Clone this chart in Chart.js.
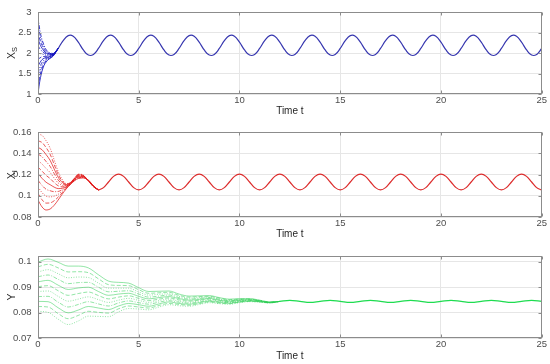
<!DOCTYPE html>
<html lang="en">
<head>
<meta charset="UTF-8">
<title>X_S, X_I and Y over time</title>
<script src="https://cdn.jsdelivr.net/npm/chart.js"></script>
<style>
  body { margin: 0; background: #fff; }
  #wrap { position: relative; width: 550px; height: 364px; }
  canvas { position: absolute; left: 0; }
</style>
</head>
<body>
<div id="wrap">
  <canvas id="xsChart" width="550" height="120" style="top:0"></canvas>
  <canvas id="xiChart" width="550" height="124" style="top:120px"></canvas>
  <canvas id="yChart" width="550" height="120" style="top:244px"></canvas>
</div>
<script>
// time samples
const tGrid = [0,0.25,0.5,0.75,1,1.25,1.5,1.75,2,2.25,2.5,2.75,3,3.25,3.5,3.75,4,4.25,4.5,4.75,5,5.25,5.5,5.75,6,6.25,6.5,6.75,7,7.25,7.5,7.75,8,8.25,8.5,8.75,9,9.25,9.5,9.75,10,10.25,10.5,10.75,11,11.25,11.5,11.75,12,12.25,12.5,12.75,13,13.25,13.5,13.75,14,14.25,14.5,14.75,15,15.25,15.5,15.75,16,16.25,16.5,16.75,17,17.25,17.5,17.75,18,18.25,18.5,18.75,19,19.25,19.5,19.75,20,20.25,20.5,20.75,21,21.25,21.5,21.75,22,22.25,22.5,22.75,23,23.25,23.5,23.75,24,24.25,24.5,24.75,25];
const tHalf = [0,0.5,1,1.5,2,2.5,3,3.5,4,4.5,5,5.5,6,6.5,7,7.5,8,8.5,9,9.5,10,10.5,11,11.5,12,12.5,13,13.5,14,14.5,15,15.5,16,16.5,17,17.5,18,18.5,19,19.5,20,20.5,21,21.5,22,22.5,23,23.5,24,24.5,25];
const tTopRun = [0, 0.05, 0.1, 0.15, 0.2, 0.3, 0.4, 0.5, 0.75, 1];
const tMidRun = [0, 0.2, 0.4, 0.6, 0.8, 1, 1.2, 1.4, 1.6, 1.8, 2, 2.25, 2.5, 2.75, 3];

const xTicks = [0, 5, 10, 15, 20, 25];
const xsTicks = [1, 1.5, 2, 2.5, 3];
const xiTicks = [0.08, 0.1, 0.12, 0.14, 0.16];
const yTicks = [0.07, 0.08, 0.09, 0.1];

// X_S: transients (t = 0..1) and the common orbit from t = 1
const xsRuns = [
  [1.00, 1.19, 1.34, 1.46, 1.56, 1.70, 1.78, 1.835, 1.926, 2.108],
  [1.17, 1.33, 1.45, 1.55, 1.63, 1.74, 1.81, 1.853, 1.932, 2.109],
  [1.34, 1.46, 1.56, 1.64, 1.70, 1.785, 1.838, 1.87, 1.938, 2.11],
  [1.51, 1.60, 1.66, 1.725, 1.77, 1.83, 1.866, 1.888, 1.944, 2.111],
  [1.68, 1.73, 1.77, 1.81, 1.84, 1.874, 1.894, 1.906, 1.949, 2.112],
  [1.85, 1.87, 1.88, 1.90, 1.91, 1.918, 1.922, 1.924, 1.955, 2.113],
  [2.02, 2.006, 1.99, 1.985, 1.978, 1.962, 1.95, 1.942, 1.961, 2.114],
  [2.19, 2.14, 2.10, 2.07, 2.05, 2.006, 1.978, 1.96, 1.967, 2.115],
  [2.36, 2.28, 2.21, 2.16, 2.12, 2.05, 2.006, 1.978, 1.973, 2.116],
  [2.53, 2.41, 2.32, 2.245, 2.19, 2.095, 2.034, 1.995, 1.978, 2.117],
  [2.70, 2.55, 2.43, 2.33, 2.26, 2.14, 2.06, 2.013, 1.984, 2.118],
  [2.88, 2.69, 2.54, 2.42, 2.33, 2.19, 2.09, 2.032, 1.99, 2.119]
];
const xsOrbit = [
  2.113, 2.304, 2.428, 2.413, 2.267, 2.077, 1.952, 1.967,
  2.113, 2.304, 2.428, 2.413, 2.267, 2.077, 1.952, 1.967,
  2.113, 2.304, 2.428, 2.413, 2.267, 2.077, 1.952, 1.967,
  2.113, 2.304, 2.428, 2.413, 2.267, 2.077, 1.952, 1.967,
  2.113, 2.304, 2.428, 2.413, 2.267, 2.077, 1.952, 1.967,
  2.113, 2.304, 2.428, 2.413, 2.267, 2.077, 1.952, 1.967,
  2.113, 2.304, 2.428, 2.413, 2.267, 2.077, 1.952, 1.967,
  2.113, 2.304, 2.428, 2.413, 2.267, 2.077, 1.952, 1.967,
  2.113, 2.304, 2.428, 2.413, 2.267, 2.077, 1.952, 1.967,
  2.113, 2.304, 2.428, 2.413, 2.267, 2.077, 1.952, 1.967,
  2.113, 2.304, 2.428, 2.413, 2.267, 2.077, 1.952, 1.967,
  2.113, 2.304, 2.428, 2.413, 2.267, 2.077, 1.952, 1.967,
  2.113
];

// X_I: transients (t = 0..3) and the orbit from t = 3
const xiRuns = [
  [0.096, 0.0895, 0.0866, 0.0875, 0.091, 0.096, 0.1015, 0.1065, 0.1105, 0.114, 0.1163, 0.1168, 0.1148, 0.1095, 0.1055],
  [0.1022, 0.0963, 0.0931, 0.0933, 0.0953, 0.0987, 0.1029, 0.107, 0.1107, 0.1143, 0.1167, 0.1171, 0.1147, 0.1094, 0.1055],
  [0.1084, 0.103, 0.0997, 0.099, 0.0996, 0.1014, 0.1043, 0.1075, 0.1109, 0.1145, 0.1171, 0.1173, 0.1146, 0.1093, 0.1055],
  [0.1146, 0.1098, 0.1062, 0.1048, 0.1039, 0.1041, 0.1057, 0.108, 0.1111, 0.1148, 0.1176, 0.1176, 0.1146, 0.1092, 0.1055],
  [0.1208, 0.1165, 0.1128, 0.1105, 0.1082, 0.1068, 0.1071, 0.1085, 0.1113, 0.115, 0.118, 0.1179, 0.1145, 0.1091, 0.1055],
  [0.127, 0.1233, 0.1193, 0.1163, 0.1125, 0.1095, 0.1085, 0.109, 0.1115, 0.1153, 0.1184, 0.1182, 0.1144, 0.109, 0.1055],
  [0.1332, 0.13, 0.1258, 0.122, 0.1168, 0.1122, 0.1099, 0.1095, 0.1117, 0.1155, 0.1188, 0.1184, 0.1143, 0.1089, 0.1055],
  [0.1394, 0.1368, 0.1324, 0.1278, 0.1211, 0.1149, 0.1113, 0.11, 0.1119, 0.1158, 0.1192, 0.1187, 0.1142, 0.1088, 0.1055],
  [0.1456, 0.1435, 0.1389, 0.1335, 0.1254, 0.1176, 0.1127, 0.1105, 0.1121, 0.116, 0.1197, 0.119, 0.1142, 0.1087, 0.1055],
  [0.1518, 0.1503, 0.1455, 0.1393, 0.1297, 0.1203, 0.1141, 0.111, 0.1123, 0.1163, 0.1201, 0.1192, 0.1141, 0.1086, 0.1055],
  [0.158, 0.157, 0.152, 0.145, 0.134, 0.123, 0.1155, 0.1115, 0.1125, 0.1165, 0.1205, 0.1195, 0.114, 0.1085, 0.1055]
];
const xiOrbit = [
  0.1055, 0.1077, 0.113, 0.1183, 0.1205, 0.1183, 0.113, 0.1077,
  0.1055, 0.1077, 0.113, 0.1183, 0.1205, 0.1183, 0.113, 0.1077,
  0.1055, 0.1077, 0.113, 0.1183, 0.1205, 0.1183, 0.113, 0.1077,
  0.1055, 0.1077, 0.113, 0.1183, 0.1205, 0.1183, 0.113, 0.1077,
  0.1055, 0.1077, 0.113, 0.1183, 0.1205, 0.1183, 0.113, 0.1077,
  0.1055, 0.1077, 0.113, 0.1183, 0.1205, 0.1183, 0.113, 0.1077,
  0.1055, 0.1077, 0.113, 0.1183, 0.1205, 0.1183, 0.113, 0.1077,
  0.1055, 0.1077, 0.113, 0.1183, 0.1205, 0.1183, 0.113, 0.1077,
  0.1055, 0.1077, 0.113, 0.1183, 0.1205, 0.1183, 0.113, 0.1077,
  0.1055, 0.1077, 0.113, 0.1183, 0.1205, 0.1183, 0.113, 0.1077,
  0.1055, 0.1077, 0.113, 0.1183, 0.1205, 0.1183, 0.113, 0.1077,
  0.1055
];

// Y: transients (t = 0..12, every 0.5) and the orbit from t = 12
const yRuns = [
  [0.0999, 0.1011, 0.0998, 0.0983, 0.0983, 0.0976, 0.0949, 0.0924, 0.0919, 0.0916, 0.0898, 0.0883, 0.0884, 0.0885, 0.0873, 0.0865, 0.0866, 0.0867, 0.0859, 0.0853, 0.0855, 0.0855, 0.0849, 0.0842, 0.0844],
  [0.098, 0.099, 0.0976, 0.096, 0.0961, 0.0957, 0.0933, 0.091, 0.0907, 0.0906, 0.089, 0.0876, 0.0878, 0.088, 0.0868, 0.0861, 0.0863, 0.0864, 0.0857, 0.0851, 0.0853, 0.0854, 0.0848, 0.0842, 0.0844],
  [0.096, 0.0969, 0.0953, 0.0937, 0.094, 0.0938, 0.0916, 0.0896, 0.0896, 0.0896, 0.0881, 0.0869, 0.0872, 0.0874, 0.0864, 0.0857, 0.0859, 0.0861, 0.0854, 0.0849, 0.0852, 0.0853, 0.0847, 0.0841, 0.0844],
  [0.0941, 0.0948, 0.0931, 0.0914, 0.0918, 0.0919, 0.09, 0.0882, 0.0884, 0.0886, 0.0873, 0.0861, 0.0865, 0.0869, 0.0859, 0.0853, 0.0856, 0.0859, 0.0852, 0.0847, 0.085, 0.0851, 0.0847, 0.0841, 0.0844],
  [0.0921, 0.0927, 0.0908, 0.0891, 0.0897, 0.09, 0.0883, 0.0868, 0.0873, 0.0876, 0.0864, 0.0854, 0.0859, 0.0863, 0.0855, 0.0849, 0.0852, 0.0856, 0.0849, 0.0845, 0.0849, 0.085, 0.0846, 0.084, 0.0844],
  [0.0902, 0.0906, 0.0886, 0.0868, 0.0875, 0.0881, 0.0867, 0.0854, 0.0861, 0.0866, 0.0856, 0.0847, 0.0853, 0.0858, 0.085, 0.0845, 0.0849, 0.0853, 0.0847, 0.0843, 0.0847, 0.0849, 0.0845, 0.084, 0.0844],
  [0.0883, 0.0885, 0.0864, 0.0845, 0.0853, 0.0862, 0.0851, 0.084, 0.0849, 0.0856, 0.0848, 0.084, 0.0847, 0.0853, 0.0845, 0.0841, 0.0846, 0.085, 0.0845, 0.0841, 0.0845, 0.0848, 0.0844, 0.084, 0.0844],
  [0.0863, 0.0864, 0.0841, 0.0822, 0.0832, 0.0843, 0.0834, 0.0826, 0.0838, 0.0846, 0.0839, 0.0833, 0.0841, 0.0847, 0.0841, 0.0837, 0.0842, 0.0847, 0.0842, 0.0839, 0.0844, 0.0847, 0.0843, 0.0839, 0.0844],
  [0.0844, 0.0843, 0.0819, 0.0799, 0.081, 0.0824, 0.0818, 0.0812, 0.0826, 0.0836, 0.0831, 0.0825, 0.0834, 0.0842, 0.0836, 0.0833, 0.0839, 0.0845, 0.084, 0.0837, 0.0842, 0.0845, 0.0843, 0.0839, 0.0844],
  [0.0824, 0.0822, 0.0796, 0.0776, 0.0789, 0.0805, 0.0801, 0.0798, 0.0815, 0.0826, 0.0822, 0.0818, 0.0828, 0.0836, 0.0832, 0.0829, 0.0835, 0.0842, 0.0837, 0.0835, 0.0841, 0.0844, 0.0842, 0.0838, 0.0844],
  [0.0805, 0.0801, 0.0774, 0.0753, 0.0767, 0.0786, 0.0785, 0.0784, 0.0803, 0.0816, 0.0814, 0.0811, 0.0822, 0.0831, 0.0827, 0.0825, 0.0832, 0.0839, 0.0835, 0.0833, 0.0839, 0.0843, 0.0841, 0.0838, 0.0844]
];
const yOrbit = [
  0.0844, 0.0848, 0.0844, 0.084,
  0.0844, 0.0848, 0.0844, 0.084,
  0.0844, 0.0848, 0.0844, 0.084,
  0.0844, 0.0848, 0.0844, 0.084,
  0.0844, 0.0848, 0.0844, 0.084,
  0.0844, 0.0848, 0.0844, 0.084,
  0.0844, 0.0848, 0.0844
];

const dashes = [[], [4, 2], [1, 1.5], [4, 1.5, 1, 1.5]];
const FONT = "'Liberation Sans', Arial, sans-serif";

function pts(ts, vs) {
  return vs.map((v, i) => ({ x: ts[i], y: v }));
}

function buildSets(runs, ts, orbitT, orbit, runColor, orbitColor) {
  const sets = runs.map((r, i) => ({
    data: pts(ts, r),
    borderColor: runColor,
    borderWidth: 1,
    borderDash: dashes[i % dashes.length],
    cubicInterpolationMode: 'monotone'
  }));
  // the periodic orbit: a smooth spline through the samples
  sets.push({ data: pts(orbitT, orbit), borderColor: orbitColor, borderWidth: 1.2, tension: 0.4 });
  return sets;
}

// MATLAB style box, inward ticks and the y label with subscript
const boxPlugin = {
  id: 'box',
  afterDraw(chart, args, opts) {
    const { ctx, chartArea: a } = chart;
    const l = Math.round(a.left) + 0.5, r = Math.round(a.right) - 0.5;
    const t = Math.round(a.top) + 0.5, b = Math.round(a.bottom) - 0.5;
    ctx.save();
    ctx.strokeStyle = '#8c8c8c';
    ctx.lineWidth = 1;
    ctx.strokeRect(l, t, r - l, b - t);
    ctx.beginPath();
    chart.scales.x.ticks.forEach(tk => {
      const px = Math.round(chart.scales.x.getPixelForValue(tk.value)) + 0.5;
      ctx.moveTo(px, b); ctx.lineTo(px, b - 3);
      ctx.moveTo(px, t); ctx.lineTo(px, t + 3);
    });
    chart.scales.y.ticks.forEach(tk => {
      const py = Math.round(chart.scales.y.getPixelForValue(tk.value)) + 0.5;
      ctx.moveTo(l, py); ctx.lineTo(l + 3, py);
      ctx.moveTo(r, py); ctx.lineTo(r - 3, py);
    });
    ctx.stroke();

    ctx.translate(12, (a.top + a.bottom) / 2);
    ctx.rotate(-Math.PI / 2);
    ctx.fillStyle = '#262626';
    ctx.textBaseline = 'middle';
    ctx.font = '10.5px ' + FONT;
    const w1 = ctx.measureText(opts.main).width;
    ctx.font = '7.5px ' + FONT;
    const w2 = opts.sub ? ctx.measureText(opts.sub).width : 0;
    const x0 = -(w1 + w2) / 2;
    ctx.font = '10.5px ' + FONT;
    ctx.fillText(opts.main, x0, 0);
    if (opts.sub) {
      ctx.font = '7.5px ' + FONT;
      ctx.fillText(opts.sub, x0 + w1, 3);
    }
    ctx.restore();
  }
};

function makeChart(id, datasets, yMin, yMax, yTickVals, title, pad, xh, titlePad) {
  new Chart(document.getElementById(id), {
    type: 'line',
    data: { datasets: datasets },
    options: {
      responsive: false,
      animation: false,
      events: [],
      layout: { padding: { top: pad, right: 8.3, left: 0, bottom: 0 } },
      elements: {
        point: { radius: 0 },
        line: { fill: false }
      },
      scales: {
        x: {
          type: 'linear', min: 0, max: 25,
          afterBuildTicks: s => { s.ticks = xTicks.map(v => ({ value: v })); },
          afterFit: s => { s.height = xh; },
          grid: { color: '#e6e6e6', drawTicks: false },
          border: { display: false },
          ticks: { padding: 0.5, maxRotation: 0, autoSkip: false, color: '#4d4d4d',
                   font: { family: FONT, size: 9.5 }, callback: v => String(v) },
          title: { display: true, text: 'Time t', color: '#262626',
                   font: { family: FONT, size: 10 }, padding: { top: 0, bottom: titlePad } }
        },
        y: {
          min: yMin, max: yMax,
          afterBuildTicks: s => { s.ticks = yTickVals.map(v => ({ value: v })); },
          afterFit: s => { s.width = 38; },
          grid: { color: '#e6e6e6', drawTicks: false },
          border: { display: false },
          ticks: { padding: 6.5, color: '#4d4d4d', font: { family: FONT, size: 9.5 },
                   callback: v => String(v) }
        }
      },
      plugins: {
        legend: { display: false },
        tooltip: { enabled: false },
        box: title
      }
    },
    plugins: [boxPlugin]
  });
}

makeChart('xsChart',
  buildSets(xsRuns, tTopRun, tGrid.slice(4), xsOrbit, 'rgba(20,20,190,0.85)', 'rgb(55,55,175)'),
  1, 3, xsTicks, { main: 'X', sub: 'S' }, 8, 26, 3);

makeChart('xiChart',
  buildSets(xiRuns, tMidRun, tGrid.slice(12), xiOrbit, 'rgba(225,30,30,0.75)', 'rgb(220,45,45)'),
  0.08, 0.16, xiTicks, { main: 'X', sub: 'I' }, 10, 27, 4);

makeChart('yChart',
  buildSets(yRuns, tHalf.slice(0, 25), tHalf.slice(24), yOrbit, 'rgba(40,205,80,0.5)', 'rgb(30,220,80)'),
  0.07, 0.1022, yTicks, { main: 'Y', sub: '' }, 8, 26, 2);
</script>
</body>
</html>
